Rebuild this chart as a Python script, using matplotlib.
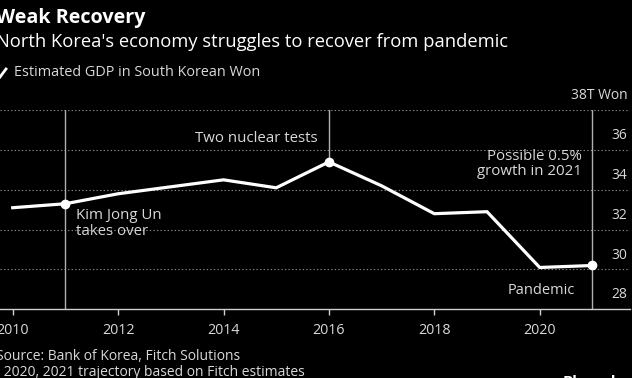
import matplotlib
matplotlib.use("Agg")
import matplotlib.pyplot as plt
import matplotlib.transforms as mtransforms

years = [2010, 2011, 2012, 2013, 2014, 2015, 2016, 2017, 2018, 2019, 2020, 2021]
gdp = [33.1, 33.3, 33.8, 34.15, 34.5, 34.1, 35.4, 34.2, 32.8, 32.9, 30.1, 30.2]
marked_years = [2011, 2016, 2021]
xtick_years = [2010, 2012, 2014, 2016, 2018, 2020]
ytick_vals = [28, 30, 32, 34, 36, 38]
ytick_labels = ["28", "30", "32", "34", "36", "38T Won"]

FONT = ["Open Sans", "DejaVu Sans"]
plt.rcParams['font.family'] = FONT
TXT = "#d9d9d9"
GRID = "#8a8a8a"

fig = plt.figure(figsize=(6.32, 3.78), dpi=100, facecolor="black")
ax = fig.add_axes([0.0, 0.1817, 630/632, 0.527])
ax.set_facecolor("black")
ax.set_xlim(2009.759, 2021.713)
ax.set_ylim(28, 38)

for s in ["top", "left", "right"]:
    ax.spines[s].set_visible(False)
ax.spines["bottom"].set_color("#cfcfcf")
ax.spines["bottom"].set_linewidth(1.0)

ax.set_xticks(xtick_years)
ax.set_xticklabels([str(y) for y in xtick_years])
ax.tick_params(axis="x", colors="#cfcfcf", labelcolor=TXT, length=4, width=1, labelsize=10.3, pad=6)
ax.set_yticks([])

for v in ytick_vals[1:]:
    ax.axhline(v, color=GRID, lw=0.8, ls=(0, (1.2, 2)), zorder=1)

trans = mtransforms.offset_copy(ax.get_yaxis_transform(), fig=fig, x=-2, y=5, units="points")
for v, lab in zip(ytick_vals, ytick_labels):
    ax.text(1.0, v, lab, transform=trans, ha="right", va="bottom", color=TXT, fontsize=10)

# vertical event lines
ax.axvline(marked_years[0], color="#b0b0b0", lw=1, zorder=2)
ax.axvline(marked_years[2], color="#b0b0b0", lw=1, zorder=2)
ax.plot([marked_years[1], marked_years[1]], [gdp[years.index(marked_years[1])], 38], color="#b0b0b0", lw=1, zorder=2)

ax.plot(years, gdp, color="white", lw=2.3, zorder=3, solid_joinstyle="miter")
ax.plot(marked_years, [gdp[years.index(y)] for y in marked_years], "o", color="white", ms=6, zorder=4)

AF = 10.8
ax.text(2015.79, 36.57, "Two nuclear tests", ha="right", va="center", color=TXT, fontsize=AF)
ax.text(2011.2, 33.08, "Kim Jong Un\ntakes over", ha="left", va="top", color=TXT, fontsize=AF, linespacing=1.05)
ax.text(2020.8, 35.29, "Possible 0.5%\ngrowth in 2021", ha="right", va="center", color=TXT, fontsize=AF, linespacing=1.05)
ax.text(2020.67, 28.92, "Pandemic", ha="right", va="center", color=TXT, fontsize=10.5)

fig.text(-0.006, 1 - 18/378, "Weak Recovery", ha="left", va="center", color="white", fontsize=14.2, fontweight="bold")
fig.text(-0.006, 1 - 42/378, "North Korea's economy struggles to recover from pandemic", ha="left", va="center", color="white", fontsize=13.25)
fig.lines.append(plt.Line2D([0/632, 6/632], [1 - 77/378, 1 - 69/378], transform=fig.transFigure, color="white", lw=2))
fig.text(14/632, 1 - 73/378, "Estimated GDP in South Korean Won", ha="left", va="center", color=TXT, fontsize=10.4)

fig.text(-0.006, 1 - 356/378, "Source: Bank of Korea, Fitch Solutions", ha="left", va="center", color=TXT, fontsize=10)
fig.text(-0.055, 1 - 372/378, "Note: 2020, 2021 trajectory based on Fitch estimates", ha="left", va="center", color=TXT, fontsize=10)
fig.text(563/632, 1 - 382/378, "Bloomberg", ha="left", va="center", color="white", fontsize=11, fontweight="bold")

fig.savefig("out.png", dpi=100, facecolor="black")
